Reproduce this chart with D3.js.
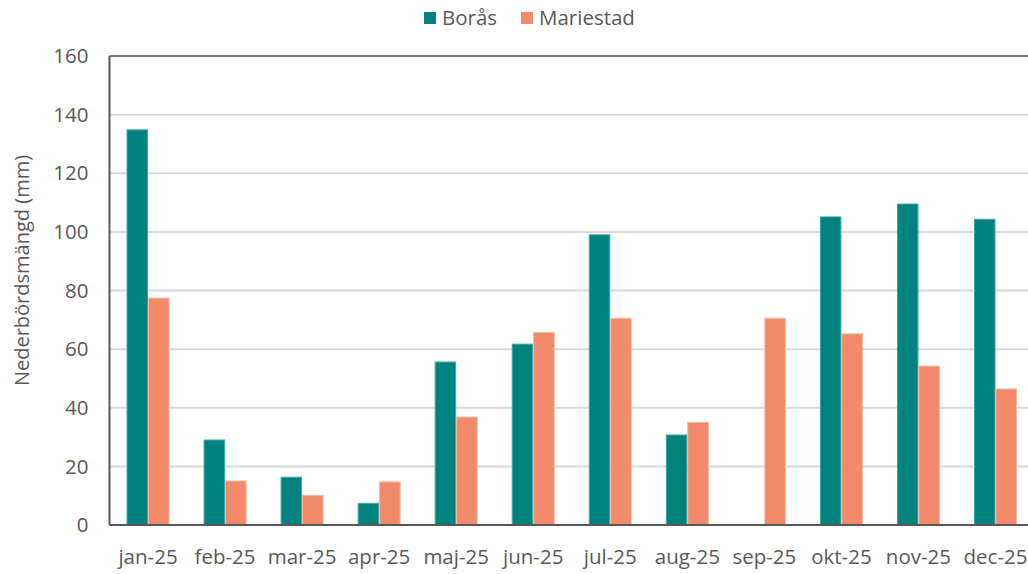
<!DOCTYPE html>
<html>
<head>
<meta charset="utf-8">
<script src="https://cdn.jsdelivr.net/npm/d3@7"></script>
<style>
  body { margin: 0; background: #fff; }
  svg { display: block; font-family: "Open Sans", sans-serif; }
</style>
</head>
<body>
<div id="chart"></div>
<script>
// values
const months = ["jan-25", "feb-25", "mar-25", "apr-25", "maj-25", "jun-25",
  "jul-25", "aug-25", "sep-25", "okt-25", "nov-25", "dec-25"];
const boras = [134.8, 29.0, 16.3, 7.4, 55.6, 61.7, 99.0, 30.7, null, 105.1, 109.5, 104.3];
const mariestad = [77.4, 15.0, 10.1, 14.7, 36.8, 65.7, 70.5, 35.0, 70.5, 65.2, 54.2, 46.4];
const seriesNames = ["Borås", "Mariestad"];
const yTicks = [0, 20, 40, 60, 80, 100, 120, 140, 160];

const colors = ["#00827f", "#f2896a"];
const strokes = ["#3aa9a6", "#f9b39e"];

const width = 1028, height = 574;
const margin = { top: 56, right: -6, bottom: 49, left: 109.5 };
const innerW = width - margin.left - margin.right;
const innerH = height - margin.top - margin.bottom;

const svg = d3.select("#chart").append("svg")
  .attr("width", width)
  .attr("height", height);

const chart = svg.append("g")
  .attr("transform", `translate(${margin.left},${margin.top})`);

const x = d3.scaleBand().domain(months).range([0, innerW]);
const xSub = d3.scaleBand().domain(seriesNames)
  .range([x.bandwidth() / 2 - 21.5, x.bandwidth() / 2 + 21.5]);
const y = d3.scaleLinear().domain([0, 160]).range([innerH, 0]);

// gridlines
chart.append("g")
  .selectAll("line")
  .data(yTicks.filter(d => d > 0 && d < 160))
  .join("line")
  .attr("x1", 0)
  .attr("x2", innerW)
  .attr("y1", d => y(d))
  .attr("y2", d => y(d))
  .style("stroke", "#d9d9d9")
  .style("stroke-width", 2);

// bars
const rows = months.map((m, i) => ({ month: m, values: [boras[i], mariestad[i]] }));
const groups = chart.selectAll(".group")
  .data(rows)
  .join("g")
  .attr("class", "group")
  .attr("transform", d => `translate(${x(d.month)},0)`);

groups.selectAll("rect")
  .data(d => d.values.map((v, i) => ({ name: seriesNames[i], v, i })).filter(e => e.v != null))
  .join("rect")
  .attr("x", d => xSub(d.name) + 0.5)
  .attr("width", xSub.bandwidth() - 1)
  .attr("y", d => y(d.v))
  .attr("height", d => y(0) - y(d.v))
  .style("fill", d => colors[d.i])
  .style("stroke", d => strokes[d.i])
  .style("stroke-width", 1);

// frame: top, left and bottom lines
chart.append("line")
  .attr("x1", 0).attr("x2", innerW).attr("y1", 0).attr("y2", 0)
  .style("stroke", "#767676").style("stroke-width", 2);
chart.append("line")
  .attr("x1", 0).attr("x2", 0).attr("y1", 0).attr("y2", innerH)
  .style("stroke", "#595959").style("stroke-width", 2);
chart.append("line")
  .attr("x1", 0).attr("x2", innerW).attr("y1", innerH).attr("y2", innerH)
  .style("stroke", "#595959").style("stroke-width", 2);

// y tick labels
chart.append("g")
  .selectAll("text")
  .data(yTicks)
  .join("text")
  .attr("x", -21)
  .attr("y", d => y(d))
  .attr("dy", "0.35em")
  .style("text-anchor", "end")
  .style("font-size", "20.5px")
  .style("fill", "#595959")
  .text(d => d);

// x tick labels
chart.append("g")
  .selectAll("text")
  .data(months)
  .join("text")
  .attr("x", d => x(d) + x.bandwidth() / 2)
  .attr("y", innerH + 32)
  .attr("dy", "0.35em")
  .style("text-anchor", "middle")
  .style("font-size", "20.5px")
  .style("fill", "#595959")
  .text(d => d);

// y axis title
svg.append("text")
  .attr("transform", `translate(22,270.5) rotate(-90)`)
  .style("text-anchor", "middle")
  .attr("dy", "0.35em")
  .style("font-size", "20px")
  .style("fill", "#595959")
  .text("Nederbördsmängd (mm)");

// legend
const legend = svg.append("g").attr("transform", "translate(424,18)");
const legendX = [0, 97];
seriesNames.forEach((name, i) => {
  legend.append("rect")
    .attr("x", legendX[i])
    .attr("y", -6)
    .attr("width", 12)
    .attr("height", 12)
    .style("fill", colors[i]);
  legend.append("text")
    .attr("x", legendX[i] + 18)
    .attr("y", 0)
    .attr("dy", "0.35em")
    .style("font-size", "20.5px")
    .style("fill", "#595959")
    .text(name);
});
</script>
</body>
</html>
